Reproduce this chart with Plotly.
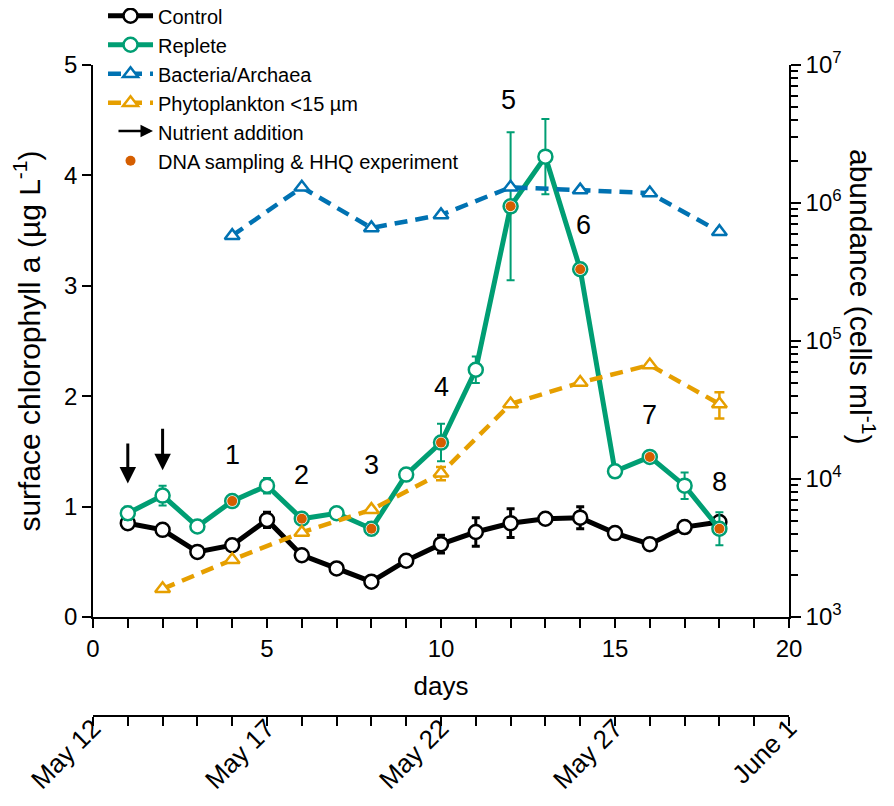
import plotly.graph_objects as go

# ---------------- data ----------------
days = list(range(1, 19))
control = [0.85, 0.79, 0.59, 0.65, 0.88, 0.56, 0.44, 0.32, 0.51, 0.66, 0.77, 0.85, 0.89, 0.90, 0.76, 0.66, 0.815, 0.86]
control_err = [0.02, 0.02, 0.02, 0.03, 0.07, 0.02, 0.02, 0.02, 0.02, 0.08, 0.13, 0.13, 0.03, 0.10, 0.02, 0.02, 0.04, 0.04]
replete = [0.94, 1.10, 0.82, 1.05, 1.19, 0.89, 0.94, 0.80, 1.29, 1.58, 2.24, 3.72, 4.17, 3.15, 1.32, 1.45, 1.19, 0.80]
replete_err = [0.06, 0.09, 0.03, 0.05, 0.07, 0.04, 0.03, 0.06, 0.04, 0.17, 0.12, 0.67, 0.34, 0.03, 0.03, 0.04, 0.12, 0.15]

dna_days = [4, 6, 8, 10, 12, 14, 16, 18]
dna_vals = [replete[days.index(d)] for d in dna_days]
sample_labels = ["1", "2", "3", "4", "5", "6", "7", "8"]
sample_label_x = [4, 6, 8, 10, 11.95, 14.1, 16, 18]
sample_label_y = [1.47, 1.29, 1.38, 2.08, 4.68, 3.55, 1.83, 1.22]

addition_days = [1, 2]
arrow_top = [1.585, 1.72]
arrow_tip = [1.21, 1.33]

bact_days = [4, 6, 8, 10, 12, 14, 16, 18]
bact = [5.8e5, 1.3e6, 6.6e5, 8.2e5, 1.3e6, 1.24e6, 1.18e6, 6.2e5]

phyto_days = [2, 4, 6, 8, 10, 12, 14, 16, 18]
phyto = [1.6e3, 2.6e3, 4.1e3, 6.0e3, 1.1e4, 3.5e4, 5.0e4, 6.7e4, 3.5e4]
phyto_err = [0, 0, 0, 0, 1.2e3, 0, 0, 0, 7.5e3]

day_ticks = list(range(0, 21))
day_labels = [str(d) if d % 5 == 0 else "" for d in day_ticks]
date_ticks = list(range(0, 21))
date_names = {0: "May 12", 5: "May 17", 10: "May 22", 15: "May 27", 20: "June 1"}
date_labels = [date_names.get(d, "") for d in date_ticks]

# ---------------- style ----------------
FONT = "Arial, Liberation Sans, sans-serif"
BLACK = "#000000"
GREEN = "#009E73"
BLUE = "#0072B2"
ORANGE = "#E69F00"
VERM = "#D55E00"

fig = go.Figure()

# dashed abundance series (right log axis)
fig.add_trace(go.Scatter(
    x=bact_days, y=bact, name="Bacteria/Archaea", yaxis="y2", legendrank=3,
    mode="lines+markers",
    line=dict(color=BLUE, width=4.5, dash="13px,8px"),
    marker=dict(symbol="triangle-up", size=13, color="white", line=dict(color=BLUE, width=2.5)),
))
fig.add_trace(go.Scatter(
    x=phyto_days, y=phyto, name="Phytoplankton <15 µm", yaxis="y2", legendrank=4,
    mode="lines+markers",
    line=dict(color=ORANGE, width=4.5, dash="13px,8px"),
    marker=dict(symbol="triangle-up", size=13, color="white", line=dict(color=ORANGE, width=2.5)),
    error_y=dict(type="data", array=phyto_err, color=ORANGE, thickness=2.5, width=5),
))

fig.add_trace(go.Scatter(
    x=days, y=control, name="Control", legendrank=1, yaxis="y",
    mode="lines+markers",
    line=dict(color=BLACK, width=5),
    marker=dict(symbol="circle", size=14, color="white", line=dict(color=BLACK, width=2.5)),
    error_y=dict(type="data", array=control_err, color=BLACK, thickness=3, width=4),
))
fig.add_trace(go.Scatter(
    x=days, y=replete, name="Replete", legendrank=2, yaxis="y",
    mode="lines+markers",
    line=dict(color=GREEN, width=5),
    marker=dict(symbol="circle", size=14, color="white", line=dict(color=GREEN, width=2.5)),
    error_y=dict(type="data", array=replete_err, color=GREEN, thickness=2, width=4),
))
fig.add_trace(go.Scatter(
    x=[None], y=[None], name="Nutrient addition", legendrank=5, yaxis="y",
    mode="lines", line=dict(color="rgba(0,0,0,0)", width=2.5),
))
fig.add_trace(go.Scatter(
    x=dna_days, y=dna_vals, name="DNA sampling & HHQ experiment", legendrank=6, yaxis="y",
    mode="markers",
    marker=dict(symbol="circle", size=10, color=VERM, line=dict(width=0)),
))
# carrier for the date axis
fig.add_trace(go.Scatter(
    x=[date_ticks[0], date_ticks[-1]], y=[None, None], xaxis="x2", yaxis="y",
    mode="markers", showlegend=False, hoverinfo="skip",
))

annotations = []
for d, y0, y1 in zip(addition_days, arrow_top, arrow_tip):
    annotations.append(dict(
        x=d, y=y1, ax=d, ay=y0, xref="x", yref="y", axref="x", ayref="y",
        showarrow=True, arrowhead=2, arrowsize=1.1, arrowwidth=3, arrowcolor=BLACK, text="",
    ))
for t, lx, ly in zip(sample_labels, sample_label_x, sample_label_y):
    annotations.append(dict(
        x=lx, y=ly, xref="x", yref="y", text=t, showarrow=False,
        font=dict(family=FONT, size=27, color=BLACK),
    ))
# legend arrow symbol for "Nutrient addition"
annotations.append(dict(
    x=0.0862, y=0.9107, xref="paper", yref="paper", ax=-36, ay=0, text="",
    showarrow=True, arrowhead=2, arrowsize=1.0, arrowwidth=2.5, arrowcolor=BLACK,
))
annotations.append(dict(
    x=1.105, y=0.686, xref="paper", yref="paper", xanchor="center", yanchor="middle",
    text="abundance (cells ml<sup>-1</sup>)",
    textangle=90, showarrow=False, font=dict(family=FONT, size=30, color=BLACK),
))

axis_common = dict(showline=True, linecolor=BLACK, linewidth=1.5, showgrid=False, zeroline=False,
                   ticks="outside", tickcolor=BLACK, tickwidth=1.5, automargin=False)

fig.update_layout(
    width=894, height=806,
    margin=dict(l=85, r=113, t=57, b=10, autoexpand=False),
    paper_bgcolor="white", plot_bgcolor="white",
    font=dict(family=FONT, size=24, color=BLACK),
    showlegend=True,
    legend=dict(x=0.0144, y=1.093, xanchor="left", yanchor="top", bgcolor="rgba(0,0,0,0)",
                font=dict(family=FONT, size=20, color=BLACK), itemwidth=45,
                tracegroupgap=0),
    xaxis=dict(range=[0, 20], tickvals=day_ticks, ticktext=day_labels, ticklen=9,
               title=dict(text="days", font=dict(size=26), standoff=16),
               anchor="y", tickfont=dict(size=24), **axis_common),
    xaxis2=dict(range=[0, 20], overlaying="x", anchor="free", position=0.1191, side="bottom",
                tickvals=date_ticks, ticktext=date_labels, tickangle=-45, ticklen=9,
                ticklabelstandoff=-23,
                tickfont=dict(size=26), **axis_common),
    yaxis=dict(range=[0, 5], dtick=1, ticklen=9, domain=[0.2530, 1], anchor="x",
               title=dict(text="surface chlorophyll a (µg L<sup>-1</sup>)", font=dict(size=30), standoff=42),
               tickfont=dict(size=24), **axis_common),
    yaxis2=dict(type="log", range=[3, 7], overlaying="y", side="right", anchor="x",
                tickvals=[1e3, 1e4, 1e5, 1e6, 1e7],
                ticktext=["10<sup>3</sup>", "10<sup>4</sup>", "10<sup>5</sup>", "10<sup>6</sup>", "10<sup>7</sup>"],
                ticklen=10, tickfont=dict(size=24),
                minor=dict(tickvals=[k * 10 ** n for n in range(3, 7) for k in range(2, 10)],
                           ticks="outside", ticklen=7, tickcolor=BLACK, tickwidth=1.5),
                **axis_common),
    annotations=annotations,
)

fig.write_html("out.html")
